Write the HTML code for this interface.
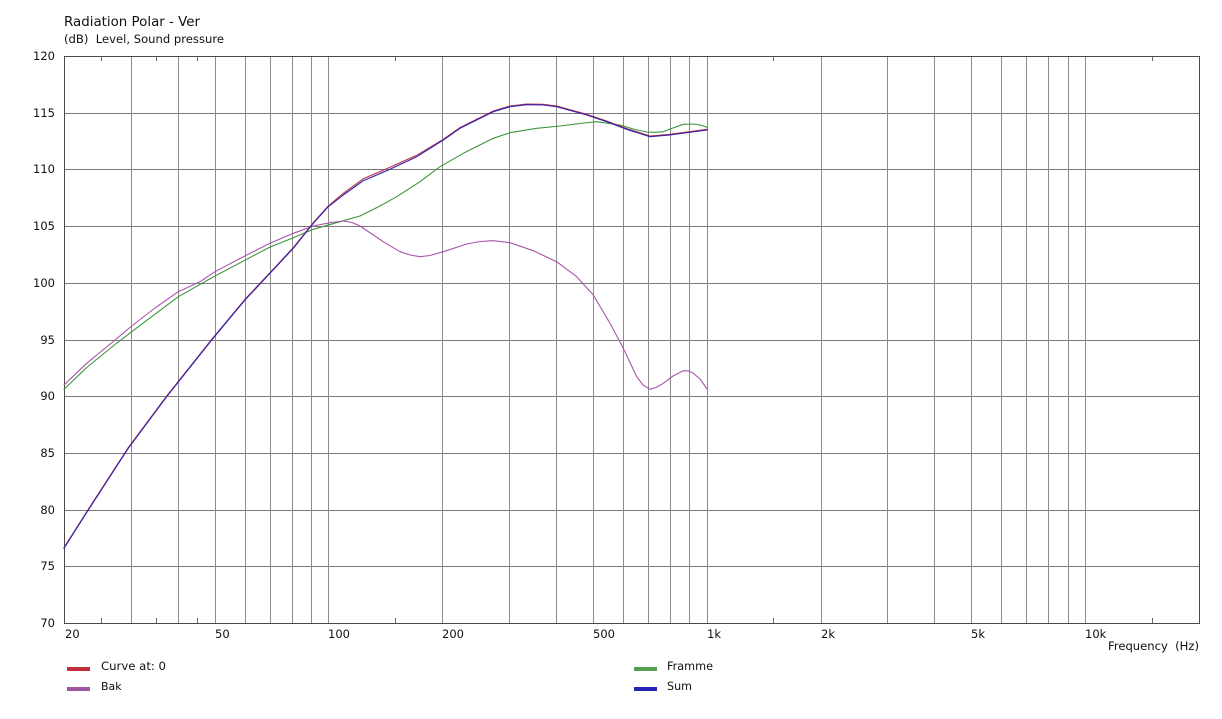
<!DOCTYPE html>
<html><head><meta charset="utf-8"><style>
html,body{margin:0;padding:0;background:#fff;}
svg{display:block;}
text{font-family:"DejaVu Sans","Liberation Sans",sans-serif;fill:#111;}
</style></head><body>
<svg width="1222" height="719" viewBox="0 0 1222 719" xmlns="http://www.w3.org/2000/svg">
<rect width="1222" height="719" fill="#fff"/>
<!-- titles -->
<text x="64" y="26" font-size="13" textLength="136" lengthAdjust="spacingAndGlyphs">Radiation Polar - Ver</text>
<text x="64" y="43" font-size="11.5" textLength="160" lengthAdjust="spacingAndGlyphs" xml:space="preserve">(dB)&#160; Level, Sound pressure</text>

<!-- horizontal grid -->
<g stroke="#7a7a7a" stroke-width="1" shape-rendering="crispEdges">
<line x1="64" y1="113.5" x2="1200" y2="113.5"/>
<line x1="64" y1="169.5" x2="1200" y2="169.5"/>
<line x1="64" y1="226.5" x2="1200" y2="226.5"/>
<line x1="64" y1="283.5" x2="1200" y2="283.5"/>
<line x1="64" y1="340.5" x2="1200" y2="340.5"/>
<line x1="64" y1="396.5" x2="1200" y2="396.5"/>
<line x1="64" y1="453.5" x2="1200" y2="453.5"/>
<line x1="64" y1="510.5" x2="1200" y2="510.5"/>
<line x1="64" y1="566.5" x2="1200" y2="566.5"/>
</g>
<!-- vertical grid -->
<g stroke="#8c8c8c" stroke-width="1" shape-rendering="crispEdges">
<line x1="131.5" y1="56" x2="131.5" y2="623"/>
<line x1="178.5" y1="56" x2="178.5" y2="623"/>
<line x1="215.5" y1="56" x2="215.5" y2="623"/>
<line x1="245.5" y1="56" x2="245.5" y2="623"/>
<line x1="270.5" y1="56" x2="270.5" y2="623"/>
<line x1="292.5" y1="56" x2="292.5" y2="623"/>
<line x1="311.5" y1="56" x2="311.5" y2="623"/>
<line x1="328.5" y1="56" x2="328.5" y2="623"/>
<line x1="442.5" y1="56" x2="442.5" y2="623"/>
<line x1="509.5" y1="56" x2="509.5" y2="623"/>
<line x1="556.5" y1="56" x2="556.5" y2="623"/>
<line x1="593.5" y1="56" x2="593.5" y2="623"/>
<line x1="623.5" y1="56" x2="623.5" y2="623"/>
<line x1="648.5" y1="56" x2="648.5" y2="623"/>
<line x1="670.5" y1="56" x2="670.5" y2="623"/>
<line x1="689.5" y1="56" x2="689.5" y2="623"/>
<line x1="707.5" y1="56" x2="707.5" y2="623"/>
<line x1="821.5" y1="56" x2="821.5" y2="623"/>
<line x1="887.5" y1="56" x2="887.5" y2="623"/>
<line x1="934.5" y1="56" x2="934.5" y2="623"/>
<line x1="971.5" y1="56" x2="971.5" y2="623"/>
<line x1="1001.5" y1="56" x2="1001.5" y2="623"/>
<line x1="1026.5" y1="56" x2="1026.5" y2="623"/>
<line x1="1048.5" y1="56" x2="1048.5" y2="623"/>
<line x1="1068.5" y1="56" x2="1068.5" y2="623"/>
<line x1="1085.5" y1="56" x2="1085.5" y2="623"/>
</g>
<!-- minor ticks -->
<g stroke="#666" stroke-width="1" shape-rendering="crispEdges">
<line x1="101.5" y1="56" x2="101.5" y2="61"/><line x1="101.5" y1="618" x2="101.5" y2="623"/>
<line x1="156.5" y1="56" x2="156.5" y2="61"/><line x1="156.5" y1="618" x2="156.5" y2="623"/>
<line x1="197.5" y1="56" x2="197.5" y2="61"/><line x1="197.5" y1="618" x2="197.5" y2="623"/>
<line x1="395.5" y1="56" x2="395.5" y2="61"/><line x1="395.5" y1="618" x2="395.5" y2="623"/>
<line x1="773.5" y1="56" x2="773.5" y2="61"/><line x1="773.5" y1="618" x2="773.5" y2="623"/>
<line x1="1152.5" y1="56" x2="1152.5" y2="61"/><line x1="1152.5" y1="618" x2="1152.5" y2="623"/>
</g>
<!-- border -->
<rect x="64.5" y="56.5" width="1135" height="567" fill="none" stroke="#4a4a4a" stroke-width="1" shape-rendering="crispEdges"/>

<!-- y labels -->
<g font-size="11.5" text-anchor="end">
<text x="55" y="60">120</text>
<text x="55" y="117">115</text>
<text x="55" y="173">110</text>
<text x="55" y="230">105</text>
<text x="55" y="287">100</text>
<text x="55" y="344">95</text>
<text x="55" y="400">90</text>
<text x="55" y="457">85</text>
<text x="55" y="514">80</text>
<text x="55" y="570">75</text>
<text x="55" y="627">70</text>
</g>
<!-- x labels -->
<g font-size="11.5">
<text x="65" y="638">20</text>
<text x="215" y="638">50</text>
<text x="328" y="638">100</text>
<text x="442" y="638">200</text>
<text x="593" y="638">500</text>
<text x="707" y="638">1k</text>
<text x="821" y="638">2k</text>
<text x="971" y="638">5k</text>
<text x="1085" y="638">10k</text>
<text x="1108" y="650" textLength="91" lengthAdjust="spacingAndGlyphs" xml:space="preserve">Frequency&#160; (Hz)</text>
</g>

<!-- curves -->
<g fill="none" stroke-width="1.1" stroke-linejoin="round" stroke-linecap="round">
<polyline stroke="#3c963c" points="64,389.3 86.7,367.5 115,344.5 131.7,331.7 178.3,296.7 215,276 246.7,259.3 270,247 293.3,237.7 313.3,229.3 340,221.7 360,216 378,207 396.7,196.7 420,181.7 440,166.7 463.3,153.3 493.3,138.3 510,132.7 536.7,128.3 560,126 580,123.5 596.7,121.7 620,125 635,129.5 646.7,132 655,132.3 663.3,131.7 673,128 683.3,124.3 693.3,124 700,125 707.3,127.3"/>
<polyline stroke="#a855a8" points="64,385 86.7,363.3 115,340 131.7,326 155,308 178.3,291.7 200,281.7 215,271.7 246.7,255 270,243.3 293.3,233.3 313.3,226 330,222.7 343.3,221 352,222.5 360,226 383.3,241.7 400,251.7 410,255 420,256.7 430,255.5 443.3,251.7 466.7,244 480,241.5 493.3,240.7 510,242.7 533.3,250.7 556.7,261.7 576.7,276.7 593.3,295 610,323.3 623.3,348.3 636.7,376.7 643,385 650,389.3 656,387.5 663.3,383.3 673,376 683.3,370.7 688,370.8 693.3,373.3 700,379 707.3,389.3"/>
<polyline stroke="#c0303c" transform="translate(0,-0.7)" points="64,548.3 88.3,510 128.3,448.3 166.7,396.7 211.7,340 245,300 270,273.3 293.3,248.3 313.3,223.3 328,207 343.3,194 363.3,179.5 390,168 416.7,156 443.3,140 460,128.3 493.3,111.7 510,106.7 526.7,104.7 543.3,105 556.7,106.7 586.7,115 606.7,121.7 626.7,129.3 650,136.7 670,135 686.7,132.7 707.3,130"/>
<polyline stroke="#2a24b4" points="64,548.3 88.3,510 128.3,448.3 166.7,396.7 211.7,340 245,300 270,273.3 293.3,248.3 313.3,223.3 328,207 343.3,195 363.3,180.7 390,169.3 416.7,156.7 443.3,140 460,128.3 493.3,111.7 510,106.7 526.7,104.7 543.3,105 556.7,106.7 586.7,115 606.7,121.7 626.7,129.3 650,136.7 670,135 686.7,132.7 707.3,130"/>
</g>

<!-- legend -->
<rect x="67" y="667" width="23" height="4" fill="#c0303c"/>
<rect x="67" y="687" width="23" height="4" fill="#a055a0"/>
<rect x="634" y="667" width="23" height="4" fill="#50a050"/>
<rect x="634" y="687" width="23" height="4" fill="#2a24b4"/>
<g font-size="11.5">
<text x="101" y="670" textLength="65" lengthAdjust="spacingAndGlyphs">Curve at: 0</text>
<text x="101" y="690" font-size="11">Bak</text>
<text x="667" y="670" textLength="46" lengthAdjust="spacingAndGlyphs">Framme</text>
<text x="667" y="690" textLength="25" lengthAdjust="spacingAndGlyphs">Sum</text>
</g>
</svg>
</body></html>
